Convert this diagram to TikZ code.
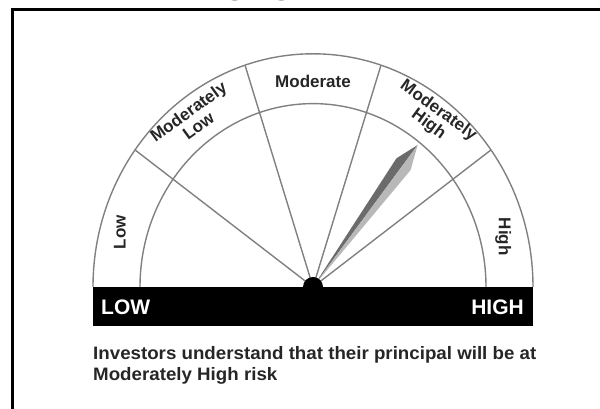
\documentclass[tikz,border=0pt]{standalone}
\usepackage{fontspec}
\setmainfont{Liberation Sans}
\newfontfamily\titlefont{Liberation Serif}
\usetikzlibrary{positioning}
\usetikzlibrary{calc}
\tikzset{gline/.style = {draw=black!50, line width=1.4pt},
  band/.style = {font=\fontsize{17}{17}\selectfont\bfseries, text=black!85, align=center, inner sep=0},
  barlabel/.style = {font=\fontsize{21}{21}\selectfont\bfseries, text=white, inner sep=0}}
\definecolor{ndark}{gray}{0.42}
\definecolor{nlight}{gray}{0.72}

\begin{document}
\begin{tikzpicture}[x=1pt, y=1pt]
    \useasboundingbox (0, 0) rectangle (600, 409);
    \coordinate (c) at (313, 122);

    % frame and cut title
    \node [anchor=base, font=\titlefont\bfseries\fontsize{32}{32}\selectfont, inner sep=0] (title) at (301, 408.5) {RISKOMETER};
    \draw [line width=3pt] (12, 0) -- (12, 399) -- (600, 399);

    % dial
    \begin{scope}[shift={(c)}, yscale=1.06]
      \draw [gline] (0:220) arc [start angle=0, end angle=180, radius=220];
      \draw [gline] (0:173) arc [start angle=0, end angle=180, radius=173];
      \foreach \a in {36, 72, 108, 144}
        \draw [gline] (0, 0) -- (\a:220);

      \fill [ndark] (0, 0) -- ($(52:147) + (142:9)$) -- (52:170) -- cycle;
      \fill [nlight] (0, 0) -- ($(52:147) + (-38:9)$) -- (52:170) -- cycle;

      \node [band, rotate=90] (low) at (165:200) {Low};
      \node [band, rotate=36] (modlow) at (127:199) {Moderately\\Low};
      \node [band] (mod) at (90:194) {Moderate};
      \node [band, rotate=-36] (modhigh) at (53:200) {Moderately\\High};
      \node [band, rotate=-90] (high) at (14:196) {High};
    \end{scope}
    \fill (c) circle (10);

    % bar
    \fill (93, 83) rectangle (533, 122);
    \node [barlabel, anchor=west] (lowtxt) at (101, 102) {LOW};
    \node [barlabel, anchor=east] (hightxt) at (524, 102) {HIGH};

    \node [anchor=north west, align=left, inner sep=0, xscale=1.04,
      font=\fontsize{18}{21}\selectfont\bfseries, text=black!85] (note) at (93, 63)
      {Investors understand that their principal will be at\\Moderately High risk};
\end{tikzpicture}
\end{document}
